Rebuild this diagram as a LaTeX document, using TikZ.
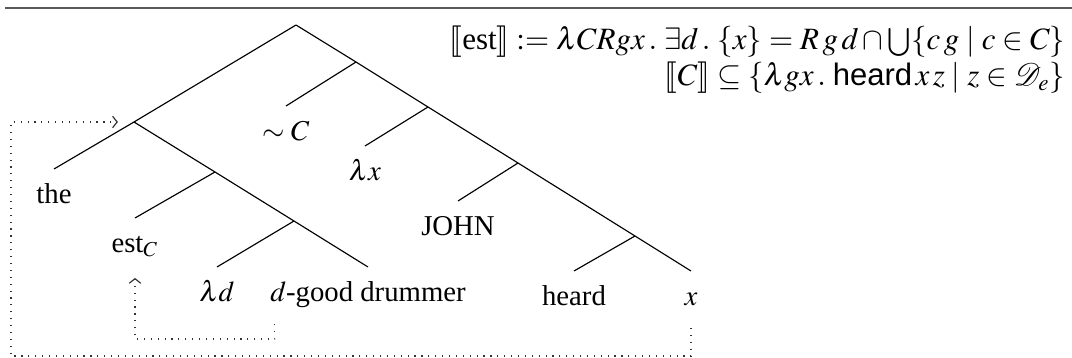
\documentclass[tikz,border=0pt]{standalone}
\usepackage{amsmath}
\usepackage{mathptmx}
\usepackage[no-math]{fontspec}
\setmainfont{Liberation Serif}
\setsansfont{Liberation Sans}
\usepackage{stmaryrd}
\usepackage{mathrsfs}
\usetikzlibrary{positioning,arrows.meta,calc}

\tikzset{
  branch/.style={line width=0.4pt},
  leaf/.style={anchor=base, inner sep=1pt},
  movement/.style={dotted, line width=0.4pt, black!80},
  movetip/.style={-{Straight Barb[length=1.6pt,width=4pt]}},
  denot/.style={anchor=base east, inner sep=0pt, font=\fontsize{10.8}{13}\selectfont},
}

\begin{document}
\begin{tikzpicture}[x=0.348pt, y=-0.348pt]
    \useasboundingbox (0,0) rectangle (1072,358);

    % rule above the figure
    \draw[line width=0.6pt, black!65] (5,8) -- (1072,8);

    % branching points
    \coordinate (root) at (296,25);
    \coordinate (dp)   at (134,122);
    \coordinate (dpr)  at (215,172);
    \coordinate (ap)   at (294,221);
    \coordinate (vp1)  at (356,62);
    \coordinate (vp2)  at (428,107);
    \coordinate (vp3)  at (518,163);
    \coordinate (vp4)  at (635,236);

    % ends of the branches
    \coordinate (t-the)   at (54,169);
    \coordinate (t-est)   at (135,218);
    \coordinate (t-ld)    at (217,267);
    \coordinate (t-dg)    at (368,267);
    \coordinate (t-C)     at (286,106);
    \coordinate (t-lx)    at (365,146);
    \coordinate (t-john)  at (458,201);
    \coordinate (t-heard) at (574,271);
    \coordinate (t-x)     at (691,271);

    % branches
    \draw[branch] (root) -- (dp);
    \draw[branch] (root) -- (vp1);
    \draw[branch] (dp) -- (t-the);
    \draw[branch] (dp) -- (dpr);
    \draw[branch] (dpr) -- (t-est);
    \draw[branch] (dpr) -- (ap);
    \draw[branch] (ap) -- (t-ld);
    \draw[branch] (ap) -- (t-dg);
    \draw[branch] (vp1) -- (t-C);
    \draw[branch] (vp1) -- (vp2);
    \draw[branch] (vp2) -- (t-lx);
    \draw[branch] (vp2) -- (vp3);
    \draw[branch] (vp3) -- (t-john);
    \draw[branch] (vp3) -- (vp4);
    \draw[branch] (vp4) -- (t-heard);
    \draw[branch] (vp4) -- (t-x);

    % leaves
    \node[leaf] (the)   at ([yshift=-12pt]t-the)   {the};
    \node[leaf] (est)   at ([yshift=-12pt]t-est)   {est$_C$};
    \node[leaf] (ld)    at ([yshift=-12pt]t-ld)    {$\lambda d$};
    \node[leaf] (dg)    at ([yshift=-12pt]t-dg)    {$d$-good drummer};
    \node[leaf] (simC)  at ([yshift=-12pt]t-C)     {$\sim C$};
    \node[leaf] (lx)    at ([yshift=-12pt]t-lx)    {$\lambda x$};
    \node[leaf] (john)  at ([yshift=-12pt]t-john)  {JOHN};
    \node[leaf] (heard) at ([yshift=-12pt]t-heard) {heard};
    \node[leaf] (xtr)   at ([yshift=-12pt]t-x)     {$x$};

    % movement of the degree phrase and of the subject
    \coordinate (lowin)  at (135,339);
    \coordinate (lowout) at (11,356);
    \draw[movement, movetip, shorten >=6pt]
        ([xshift=2.8pt,yshift=-4.5pt]dg.south west) |- (lowin) -- (lowin |- est.south);
    \draw[movement, movetip, shorten >=5.6pt]
        ([yshift=-6.5pt]xtr.south) |- (lowout) |- (dp);

    % denotations
    \node[denot] (den-est) at (1066,50)
        {$\llbracket\text{est}\rrbracket \mathrel{:=} \lambda CRgx\,.\;\exists d\,.\;\{x\} = R\,g\,d \cap \bigcup\{c\,g \mid c \in C\}$};
    \node[denot] (den-C) at (1066,86)
        {$\llbracket C\rrbracket \subseteq \{\lambda gx\,.\;\textsf{heard}\,x\,z \mid z \in \mathscr{D}_e\}$};
\end{tikzpicture}
\end{document}
